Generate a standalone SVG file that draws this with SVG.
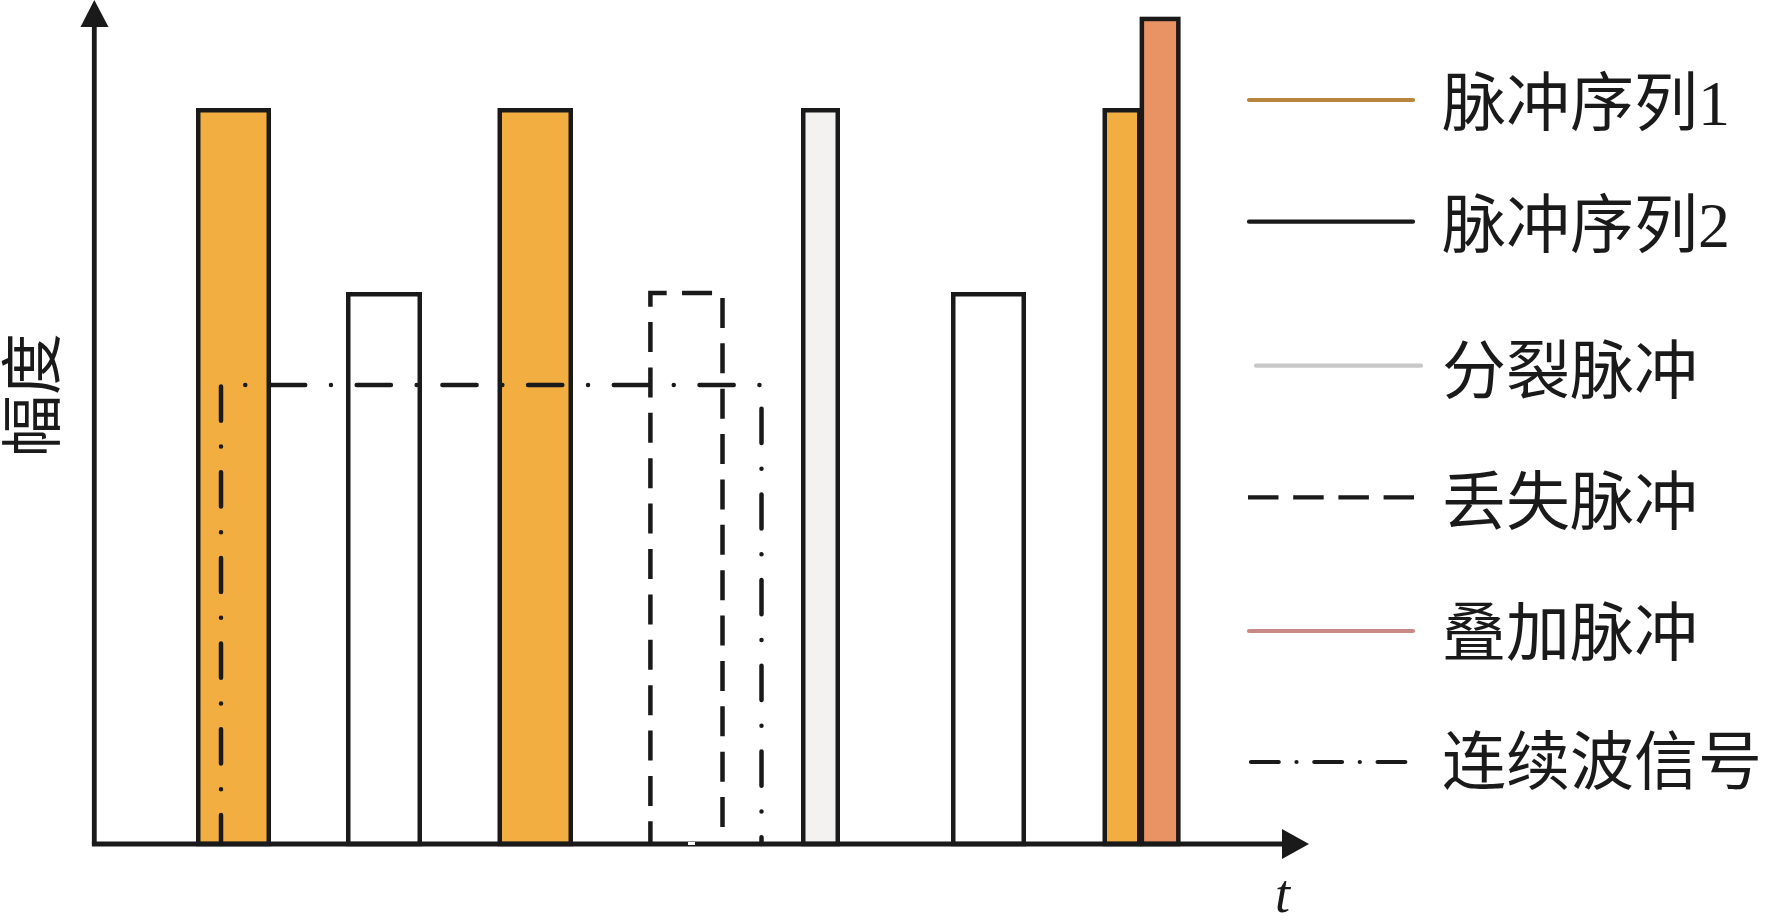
<svg xmlns="http://www.w3.org/2000/svg" width="1771" height="922" viewBox="0 0 1771 922">
<style>
.bar{stroke:#1a1a1a;stroke-width:4.5}
.p1{fill:#f2ae40}
.p2{fill:#ffffff}
.sp{fill:#f3f2f0}
.ov{fill:#e99263}
.ax{stroke:#1a1a1a;stroke-width:4.8;fill:none}
.ah{fill:#1a1a1a}
.lost{fill:none;stroke:#1a1a1a;stroke-width:4.5;stroke-dasharray:30 15.38;stroke-dashoffset:7.28}
.cw{fill:none;stroke:#1a1a1a;stroke-width:4.5;stroke-linecap:round;stroke-dasharray:34.2 25.75 0 25.75;stroke-dashoffset:5.2}
.lg{stroke-width:4.2;fill:none;stroke-linecap:round}
.tx{font-family:"Liberation Serif","Noto Sans CJK SC",serif;font-size:64px;fill:#1a1a1a}
</style>
<rect width="1771" height="922" fill="#ffffff"/>
<g id="pulses">
<g id="pulse-1a"><rect class="bar p1" x="198.25" y="110.25" width="70.5" height="733.75"/></g>
<g id="pulse-2a"><rect class="bar p2" x="348.25" y="294.25" width="71.5" height="549.75"/></g>
<g id="pulse-1b"><rect class="bar p1" x="499.75" y="110.25" width="71" height="733.75"/></g>
<g id="pulse-split"><rect class="bar sp" x="803.25" y="110.25" width="34.5" height="733.75"/></g>
<g id="pulse-2b"><rect class="bar p2" x="953.25" y="294.25" width="70.5" height="549.75"/></g>
<g id="pulse-1c"><rect class="bar p1" x="1104.75" y="110.25" width="34.5" height="733.75"/></g>
<g id="pulse-overlap"><rect class="bar ov" x="1141.85" y="18.95" width="36.5" height="825.05"/></g>
</g>
<g id="pulse-lost"><path class="lost" d="M650.4,844 V293 H722.5 V844"/></g>
<g id="connectors">
<g id="axes">
<path class="ax" d="M94.3,844 V26"/>
<polygon class="ah" points="94.3,0 80.5,27 108.5,27"/>
<path class="ax" d="M91.9,844 H1284"/>
<polygon class="ah" points="1309,844 1282,829 1282,859"/>
</g>
<g id="cw-signal"><path class="cw" d="M221,844 V385 H761.5 V844"/></g>
</g>
<rect x="688" y="842" width="7" height="3" fill="#ffffff"/>
<g id="axis-labels">
<text class="tx" transform="translate(54.6,395) rotate(-90)" text-anchor="middle" font-family="Noto Sans CJK SC, sans-serif" style="font-size:62px">幅度</text>
<text x="1275" y="912" font-family="Liberation Serif, serif" font-style="italic" font-size="54" fill="#1a1a1a">t</text>
</g>
<g id="legend">
<g id="legend-1"><path class="lg" stroke="#b7863c" d="M1249,100 H1413"/><text class="tx" x="1442" y="125">脉冲序列1</text></g>
<g id="legend-2"><path class="lg" stroke="#1a1a1a" d="M1249,221.7 H1413"/><text class="tx" x="1442" y="247">脉冲序列2</text></g>
<g id="legend-3"><path class="lg" stroke="#c8c8c8" d="M1256,365.7 H1421"/><text class="tx" x="1442" y="393">分裂脉冲</text></g>
<g id="legend-4"><path stroke="#1a1a1a" stroke-width="4.2" fill="none" stroke-dasharray="30.5 14.7" d="M1248,497.3 H1414"/><text class="tx" x="1442" y="524">丢失脉冲</text></g>
<g id="legend-5"><path class="lg" stroke="#c98a86" d="M1249,631 H1413"/><text class="tx" x="1442" y="655">叠加脉冲</text></g>
<g id="legend-6"><path class="lg" stroke="#1a1a1a" stroke-dasharray="27.7 17.8 0 17.8" d="M1251,762 H1407"/><text class="tx" x="1442" y="784">连续波信号</text></g>
</g>
</svg>
